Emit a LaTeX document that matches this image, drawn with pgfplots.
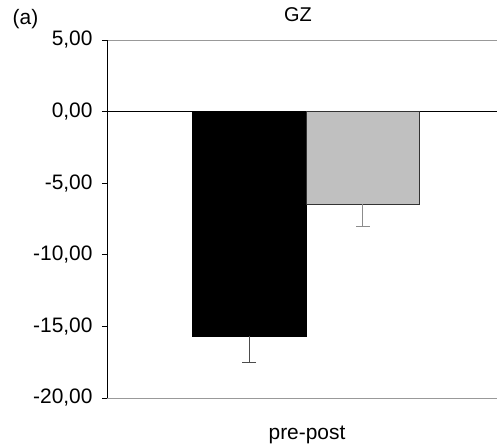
\documentclass[border=0pt]{standalone}
\usepackage{pgfplots}
\pgfplotsset{compat=1.18}
\usepackage{fontspec}
\setmainfont{Liberation Sans}
\definecolor{barGray}{HTML}{C0C0C0}
\begin{document}
\begin{tikzpicture}[x=1bp,y=1bp]
\useasboundingbox (-107,-47) rectangle (390,398);
\begin{axis}[
  at={(0,0)}, anchor=south west,
  scale only axis,
  width=390bp, height=358bp,
  xmin=107, xmax=497,
  ymin=-20, ymax=5,
  axis x line=box,
  axis y line=left,
  x axis line style={gray!80, line width=0.8pt},
  y axis line style={black, line width=0.8pt, -},
  xtick={307},
  xticklabels={pre-post},
  major x tick style={draw=none},
  xticklabel style={font=\fontsize{21}{25}\selectfont, yshift=-19bp},
  ytick={-20,-15,-10,-5,0,5},
  tick align=outside,
  major tick length=5bp,
  ytick style={black, line width=0.8pt},
  yticklabel style={font=\fontsize{21}{25}\selectfont, xshift=-6bp},
  /pgf/number format/assume math mode=true,
  y tick label style={/pgf/number format/.cd, fixed, fixed zerofill, precision=2, use comma},
  clip=false,
]
\addplot[black, line width=1pt] coordinates {(107,0) (497,0)};
\addplot[ybar, bar width=114, fill=black, draw=black,
  error bars/.cd, y dir=minus, y explicit,
  error bar style={color=black!70, line width=0.8pt},
  error mark options={color=black!70, line width=0.8pt, mark size=7bp, rotate=90}]
  coordinates {(249,-15.7) -= (0,1.8)};
\addplot[ybar, bar width=113, fill=barGray, draw=black!80, line width=0.8pt,
  error bars/.cd, y dir=minus, y explicit,
  error bar style={color=black!45, line width=0.8pt},
  error mark options={color=black!45, line width=0.8pt, mark size=7bp, rotate=90}]
  coordinates {(362.5,-6.45) -= (0,1.6)};
\end{axis}
\node[font=\fontsize{20}{24}\selectfont] at (191,383) {GZ};
\node[font=\fontsize{21}{25}\selectfont] at (-81.5,379) {(a)};
\end{tikzpicture}
\end{document}
